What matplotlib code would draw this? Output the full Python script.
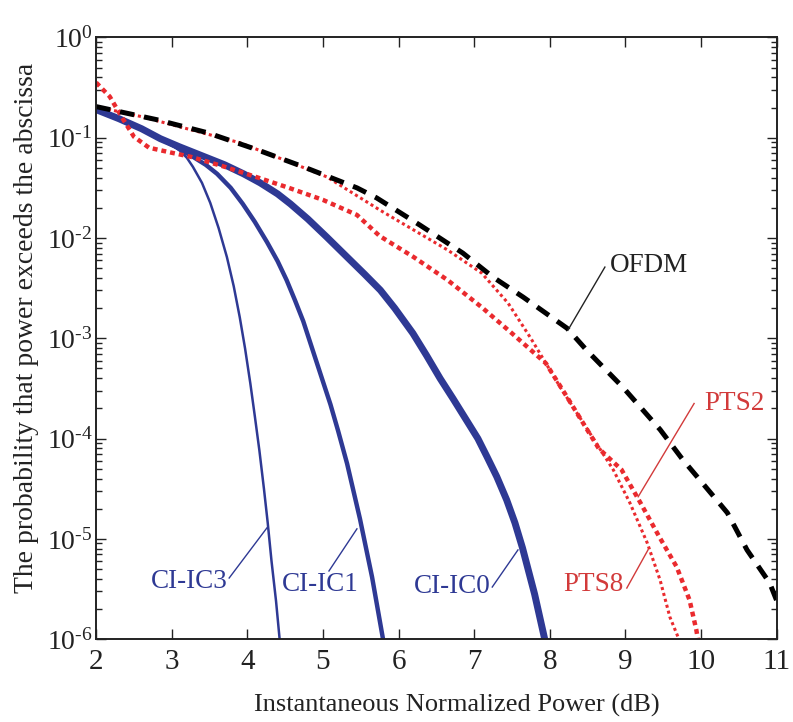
import numpy as np
import matplotlib
matplotlib.use("Agg")
import matplotlib.pyplot as plt
from matplotlib.ticker import LogLocator, NullFormatter, FixedLocator, FuncFormatter

plt.rcParams['font.family'] = ['Liberation Serif', 'DejaVu Serif']
plt.rcParams['mathtext.fontset'] = 'stix'
plt.rcParams['axes.unicode_minus'] = False

# CCDF curves: x in dB, values given as log10(probability)
ofdm_x = [2.0, 2.8, 3.47, 4.13, 4.74, 5.45, 5.71, 6.28, 6.85, 7.25, 7.65, 8.23,
          8.49, 8.97, 9.46, 9.76, 9.95, 10.35, 10.61, 10.91, 11.0]
ofdm_lg = [-0.69, -0.82, -0.95, -1.12, -1.29, -1.50, -1.60, -1.87, -2.15, -2.39, -2.59, -2.90,
           -3.12, -3.49, -3.91, -4.21, -4.38, -4.74, -5.11, -5.44, -5.61]

pts2_x = [2.0, 2.18, 2.36, 2.5, 2.7, 3.0, 3.25, 3.7, 4.15, 4.55, 5.0, 5.45, 5.75, 6.2,
          6.65, 7.1, 7.5, 7.95, 8.2, 8.65, 8.95, 9.2, 9.45, 9.68, 9.85, 9.94, 9.97]
pts2_lg = [-0.45, -0.59, -0.82, -0.99, -1.10, -1.15, -1.19, -1.29, -1.40, -1.50, -1.62, -1.77,
           -1.98, -2.19, -2.42, -2.69, -2.95, -3.25, -3.55, -4.10, -4.31, -4.64, -4.98, -5.28,
           -5.61, -5.91, -6.05]

pts8_x = [2.0, 2.6, 3.25, 3.9, 4.55, 5.05, 5.75, 6.2, 6.65, 7.1, 7.45, 7.75, 8.15, 8.45,
          8.84, 9.06, 9.29, 9.46, 9.59, 9.72]
pts8_lg = [-0.69, -0.79, -0.92, -1.05, -1.24, -1.39, -1.72, -1.92, -2.12, -2.35, -2.65, -3.0,
           -3.5, -3.85, -4.31, -4.64, -5.04, -5.41, -5.78, -6.02]

ic0_x = [2.0, 2.3, 2.6, 2.85, 3.1, 3.4, 3.7, 3.95, 4.17, 4.4, 4.57, 4.8, 5.05, 5.32, 5.55,
         5.76, 5.95, 6.19, 6.37, 6.55, 6.72, 6.91, 7.05, 7.17, 7.3, 7.43, 7.54, 7.64, 7.8, 7.94]
ic0_lg = [-0.72, -0.81, -0.91, -1.01, -1.09, -1.18, -1.27, -1.36, -1.45, -1.56, -1.66, -1.81,
          -1.99, -2.19, -2.36, -2.52, -2.70, -2.95, -3.17, -3.40, -3.60, -3.83, -4.00, -4.18,
          -4.38, -4.61, -4.84, -5.09, -5.55, -6.02]

ic1_x = [2.0, 2.45, 2.85, 3.05, 3.28, 3.45, 3.60, 3.78, 3.94, 4.10, 4.26, 4.40, 4.52, 4.63,
         4.74, 4.87, 5.00, 5.10, 5.20, 5.32, 5.49, 5.65, 5.80]
ic1_lg = [-0.72, -0.86, -1.01, -1.09, -1.19, -1.27, -1.36, -1.50, -1.66, -1.84, -2.04, -2.23,
          -2.42, -2.62, -2.83, -3.13, -3.43, -3.66, -3.92, -4.25, -4.80, -5.38, -6.02]

ic3_x = [2.0, 2.45, 2.85, 3.0, 3.11, 3.20, 3.28, 3.40, 3.51, 3.62, 3.73, 3.82, 3.90, 3.97,
         4.04, 4.10, 4.16, 4.22, 4.27, 4.32, 4.38, 4.43]
ic3_lg = [-0.72, -0.86, -1.01, -1.07, -1.13, -1.20, -1.29, -1.45, -1.65, -1.90, -2.19, -2.48,
          -2.79, -3.10, -3.45, -3.78, -4.12, -4.50, -4.84, -5.22, -5.62, -6.02]

x_ticks = [2, 3, 4, 5, 6, 7, 8, 9, 10, 11]

RED = '#EA2A2E'
RED_TXT = '#D23A3A'
BLUE = '#2E3994'
INK = '#222222'

fig = plt.figure(figsize=(7.93, 7.22), dpi=100)
ax = fig.add_axes([0.1212, 0.1147, 0.8580, 0.8335])

def p(v):
    return 10.0 ** np.asarray(v)

ax.plot(ic3_x, p(ic3_lg), color=BLUE, lw=1.8, solid_capstyle='butt', solid_joinstyle='round')
ax.plot(ic1_x, p(ic1_lg), color=BLUE, lw=3.2, solid_capstyle='butt', solid_joinstyle='round')
ax.plot(ic0_x, p(ic0_lg), color=BLUE, lw=5.0, solid_capstyle='butt', solid_joinstyle='round')
ax.plot(pts8_x, p(pts8_lg), color=RED, lw=2.2, linestyle=(0, (1.0, 1.0)))
ax.plot(pts2_x, p(pts2_lg), color=RED, lw=3.2, linestyle=(0, (1.1, 0.9)))
ax.plot(ofdm_x, p(ofdm_lg), color='black', lw=3.6, linestyle=(0, (2.9, 2.0)))

ax.set_yscale('log')
ax.set_xlim(2, 11)
ax.set_ylim(1e-6, 1)
ax.xaxis.set_major_locator(FixedLocator(x_ticks))
ax.yaxis.set_major_locator(LogLocator(base=10, numticks=10))
ax.yaxis.set_minor_locator(LogLocator(base=10, subs=np.arange(2, 10), numticks=20))
ax.yaxis.set_minor_formatter(NullFormatter())


def pow10_label(v, pos):
    e = int(round(np.log10(v)))
    exp = str(e) if e >= 0 else '\u2010' + str(-e)
    return '$\\mathdefault{10^{%s}}$' % exp


ax.yaxis.set_major_formatter(FuncFormatter(pow10_label))

ax.tick_params(which='both', direction='in', top=True, right=True, width=1.0, colors=INK,
               labelcolor=INK)
ax.tick_params(which='major', length=7)
ax.tick_params(which='minor', length=4)
ax.tick_params(axis='x', which='major', pad=7, labelsize=21)
ax.tick_params(axis='y', which='major', pad=2.5, labelsize=20)
for s in ax.spines.values():
    s.set_linewidth(1.4)
    s.set_color(INK)

ax.set_xlabel('Instantaneous Normalized Power (dB)', fontsize=19, color=INK)
ax.set_ylabel('The probability that power exceeds the abscissa', fontsize=20, color=INK)
ax.xaxis.set_label_coords(0.530, -0.091)
ax.yaxis.set_label_coords(-0.084, 0.517)

def label(text, tip, start, pos, color, ha):
    ax.plot([start[0], tip[0]], [10 ** start[1], 10 ** tip[1]], color=color, lw=1.0)
    ax.text(pos[0], 10 ** pos[1], text, fontsize=19.5, color=color, ha=ha, va='center')

label('OFDM', (8.24, -2.92), (8.73, -2.29), (8.80, -2.27), INK, 'left')
label('PTS2', (9.17, -4.58), (9.91, -3.65), (10.05, -3.65), RED_TXT, 'left')
label('PTS8', (9.30, -5.11), (9.02, -5.49), (8.97, -5.45), RED_TXT, 'right')
label('CI-IC3', (4.26, -4.89), (3.76, -5.39), (3.74, -5.42), BLUE, 'right')
label('CI-IC1', (5.45, -4.90), (5.08, -5.32), (5.47, -5.45), BLUE, 'right')
label('CI-IC0', (7.58, -5.11), (7.24, -5.48), (7.22, -5.47), BLUE, 'right')

fig.savefig('out.png', dpi=100)
